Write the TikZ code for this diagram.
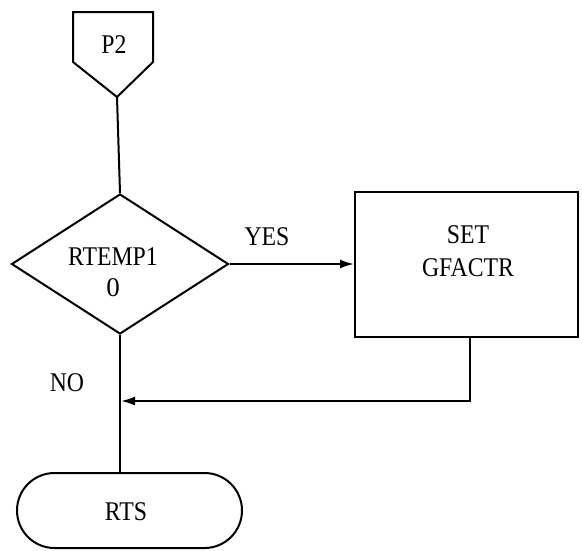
\documentclass[tikz,border=0pt]{standalone}
\usepackage{fontspec}
\setmainfont{Liberation Serif}
\usetikzlibrary{shapes.geometric,shapes.misc,arrows.meta}
\begin{document}
\begin{tikzpicture}[x=1pt,y=-1pt,
  line width=2pt,
  every node/.style={font=\fontsize{27}{32}\selectfont},
  lbl/.style={inner sep=0pt, align=center},
  boxshape/.style={draw, rectangle, inner sep=0pt},
  flow/.style={-{Latex[length=14pt,width=9pt]}}]
\useasboundingbox (0,0) rectangle (582,550);
% P2 off-page connector
\coordinate (p2nw) at (73,12);
\coordinate (p2ne) at (153,12);
\coordinate (p2se) at (153,62);
\coordinate (p2sw) at (73,62);
\coordinate (p2tip) at (117,97);
\draw (p2nw) -- (p2ne) -- (p2se) -- (p2tip) -- (p2sw) -- cycle;
\node[lbl] (p2) at (114,45) {\scalebox{0.88}[1]{P2}};
% decision
\node[draw, diamond, minimum width=217pt, minimum height=140pt, inner sep=0pt] (dec) at (120,264) {};
\node[lbl, font=\fontsize{27}{31}\selectfont] (dectext) at (113,272) {\scalebox{0.88}[1]{RTEMP1}\\0};
% process box
\node[boxshape, minimum width=223pt, minimum height=145pt] (set) at (466.5,264) {};
\node[lbl, font=\fontsize{27}{33}\selectfont] (settext) at (468,251) {\scalebox{0.88}[1]{SET}\\\scalebox{0.88}[1]{GFACTR}};
% terminator
\node[draw, rounded rectangle, minimum width=225pt, minimum height=75pt, inner sep=0pt] (rts) at (129.5,510.5) {};
\node[lbl] (rtstext) at (126,512) {\scalebox{0.88}[1]{RTS}};
% connectors
\draw (p2tip) -- (dec.north);
\draw[flow] (dec.east) -- (set.west);
\node[lbl] (yes) at (267,237) {\scalebox{0.88}[1]{YES}};
\coordinate (join) at (121,401);
\draw (dec.south) -- (dec.south |- rts.north);
\draw[flow] (set.south -| 470,0) |- (join);
\node[lbl] (no) at (67,383) {\scalebox{0.88}[1]{NO}};
\end{tikzpicture}
\end{document}
